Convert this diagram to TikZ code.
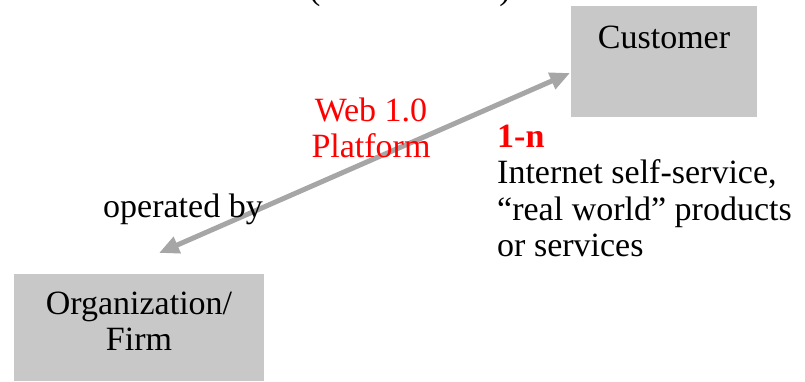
\documentclass[tikz,border=0pt]{standalone}
\usepackage{fontspec}
\setmainfont{Liberation Serif}
\usetikzlibrary{arrows.meta}
\definecolor{boxgray}{RGB}{200,200,200}
\definecolor{arrowgray}{RGB}{166,166,166}
\definecolor{webred}{RGB}{255,0,0}
\begin{document}
\begin{tikzpicture}[x=1bp,y=-1bp,
  txt/.style={font=\fontsize{34bp}{36.6bp}\selectfont, inner sep=0pt, text=black},
  box/.style={fill=boxgray, draw=none, inner sep=0pt},
  link/.style={draw=arrowgray, line width=5bp,
    {Triangle[length=20bp,width=17bp]}-{Triangle[length=20bp,width=17bp]}}]
\useasboundingbox (0,0) rectangle (805,381);
\begin{scope}
\clip (0,0) rectangle (805,381);
\node[txt, anchor=base west] (lparen) at (309,-1) {(};
\node[txt, anchor=base east] (rparen) at (511,-1) {)};
\end{scope}
% boxes
\node[box, anchor=north west, minimum width=186bp, minimum height=111bp] (cust) at (571,6) {};
\node[txt, anchor=base] (custlbl) at (664,48) {Customer};
\node[box, anchor=north west, minimum width=250bp, minimum height=107bp] (org) at (14,274) {};
\node[txt, anchor=north, align=center] (orglbl) at (139,291.5) {Organization/\\Firm};
% connector
\coordinate (aL) at (159,253);
\coordinate (aR) at (570,73);
\draw[link] (aL) -- (aR);
% labels
\node[txt, anchor=north, align=center, text=webred] (web) at (371,97.5) {Web 1.0\\Platform};
\node[txt, anchor=base west] (oper) at (103,217) {operated by};
\node[txt, anchor=north west, align=left] (desc) at (497,124.5)
  {\textcolor{webred}{\bfseries 1-n}\\Internet self-service,\\“real world” products\\or services};
\end{tikzpicture}
\end{document}
